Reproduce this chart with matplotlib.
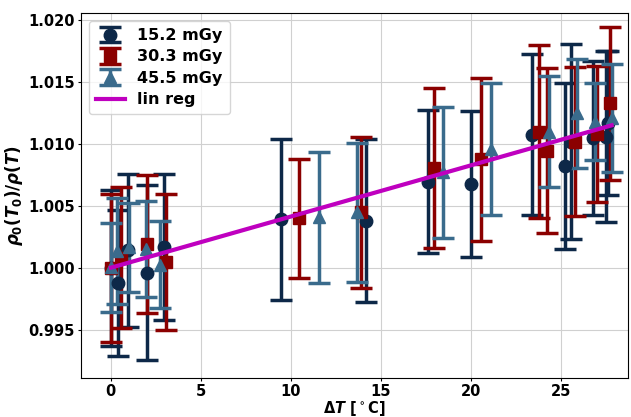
import numpy as np
import matplotlib
matplotlib.use("Agg")
import matplotlib.pyplot as plt

plt.rcParams['mathtext.fontset'] = 'custom'
plt.rcParams['mathtext.rm'] = 'DejaVu Sans:bold'
plt.rcParams['mathtext.it'] = 'DejaVu Sans:italic:bold'
plt.rcParams['mathtext.bf'] = 'DejaVu Sans:bold'

# 15.2 mGy
dt_15 = [0.0, 0.41, 0.96, 2.0, 2.96, 9.44, 14.17, 17.59, 20.0, 23.37, 25.2, 25.55, 26.76, 27.5, 27.6]
rho_15 = [1.0000, 0.99875, 1.0014, 0.9996, 1.00166, 1.0039, 1.0038, 1.00695, 1.00678, 1.01077, 1.0082, 1.0102, 1.0105, 1.0106, 1.0117]
err_15 = [0.0063, 0.0059, 0.0062, 0.0071, 0.0059, 0.0065, 0.0066, 0.0058, 0.0059, 0.0065, 0.0067, 0.0079, 0.0062, 0.0069, 0.0058]

# 30.3 mGy
dt_30 = [0.0, 0.59, 2.0, 3.06, 10.46, 13.9, 17.96, 20.56, 23.78, 24.2, 25.78, 27.0, 27.7]
rho_30 = [1.0000, 1.0008, 1.0019, 1.0005, 1.0040, 1.0045, 1.00806, 1.00875, 1.0110, 1.00947, 1.0102, 1.0108, 1.0133]
err_30 = [0.0060, 0.0057, 0.0056, 0.0055, 0.0048, 0.0061, 0.0065, 0.0066, 0.0070, 0.0067, 0.0060, 0.0055, 0.0062]

# 45.5 mGy
dt_45 = [0.0, 0.35, 1.0, 1.93, 2.72, 11.57, 13.65, 18.46, 21.1, 24.3, 25.9, 26.9, 27.8]
rho_45 = [1.00005, 1.00136, 1.00166, 1.0015, 1.00025, 1.00407, 1.00447, 1.0077, 1.0096, 1.0110, 1.0125, 1.0118, 1.0121]
err_45 = [0.0036, 0.0043, 0.0036, 0.0039, 0.0035, 0.0053, 0.0056, 0.0053, 0.0053, 0.0045, 0.0044, 0.0031, 0.0044]

labels = ['15.2 mGy', '30.3 mGy', '45.5 mGy']
colors = ['#0d2848', '#8b0000', '#3a6b8c']
markers = ['o', 's', '^']

fig = plt.figure(figsize=(6.31, 4.17), dpi=100)
ax = fig.add_axes([0.128, 0.094, 0.867, 0.875])

handles = []
series = [(dt_15, rho_15, err_15), (dt_30, rho_30, err_30), (dt_45, rho_45, err_45)]
for (x, y, e), lab, c, m in zip(series, labels, colors, markers):
    h = ax.errorbar(x, y, yerr=e, fmt=m, color=c, ms=9, elinewidth=2.5,
                    capsize=8, capthick=2.5, label=lab)
    handles.append(h)

# linear regression through (0, 1)
x_all = np.array(dt_15 + dt_30 + dt_45)
y_all = np.array(rho_15 + rho_30 + rho_45)
slope = np.sum(x_all * (y_all - 1)) / np.sum(x_all ** 2)
xx = np.array([0, x_all.max()])
line, = ax.plot(xx, 1 + slope * xx, color='m', lw=3, label='lin reg', zorder=5)
handles.append(line)

ax.set_xlim(-1.67, 28.7)
ax.set_ylim(0.9911, 1.0206)
ax.set_xticks([0, 5, 10, 15, 20, 25])
ax.set_yticks([0.995, 1.000, 1.005, 1.010, 1.015, 1.020])
ax.yaxis.set_major_formatter(matplotlib.ticker.FormatStrFormatter('%.3f'))
ax.tick_params(length=2.5, pad=2)
for lbl in ax.get_xticklabels() + ax.get_yticklabels():
    lbl.set_fontweight('bold')
    lbl.set_fontsize(10.5)
ax.grid(True, color='#d0d0d0')
ax.set_axisbelow(True)

ax.set_xlabel(r'$\Delta T$ [$^\circ$C]', fontsize=10.5, fontweight='bold', labelpad=0)
ax.set_ylabel(r'$\rho_0(T_0)/\rho(T)$', fontsize=12, fontweight='bold', labelpad=2)

ax.legend(handles=handles, loc='upper left', prop={'weight': 'bold', 'size': 11.5},
          handlelength=1.8, borderpad=0.45, labelspacing=0.4)

fig.savefig('out.png', dpi=100)
